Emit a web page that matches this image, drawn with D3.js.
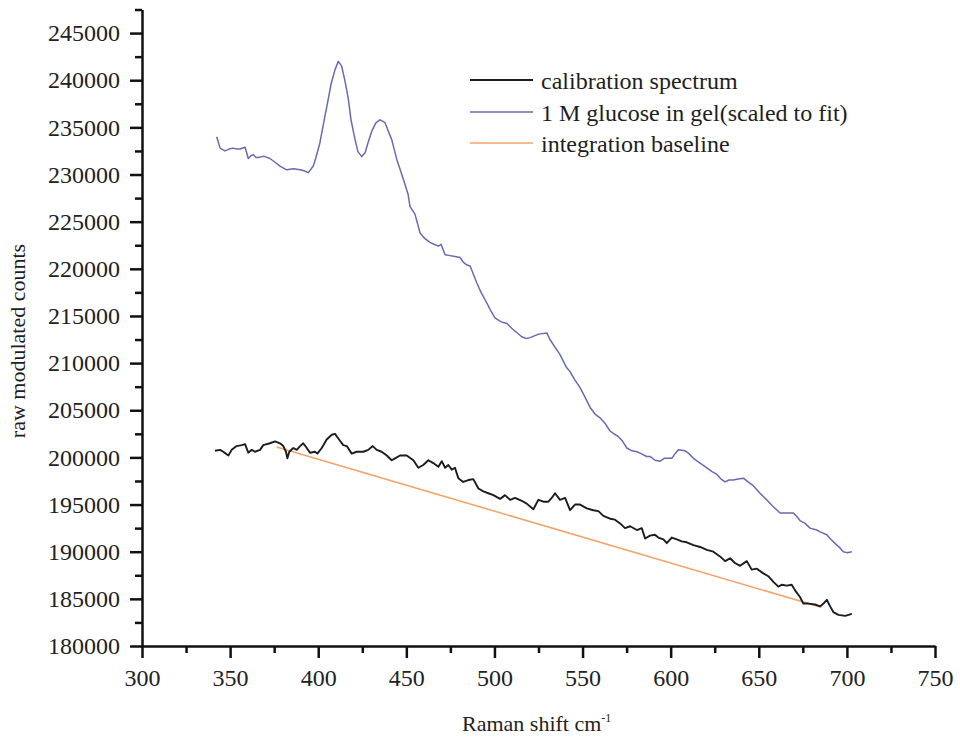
<!DOCTYPE html>
<html><head><meta charset="utf-8">
<script src="https://cdn.jsdelivr.net/npm/d3@7"></script>
<style>
body{margin:0;background:#fff}
svg{display:block}
</style>
</head><body>
<svg id="c" width="960" height="740"></svg>
<script>
// ---- data ----
const glucoseShift = [342.4,344.3,347.1,349.4,351.6,353.9,355.6,358.5,360.3,361.9,
363.2,364.7,366.0,368.1,369.8,372.6,375.5,378.3,382.1,385.9,
389.7,391.9,394.4,397.2,398.7,401.0,403.3,405.7,407.3,409.5,
411.4,413.3,415.2,417.1,418.6,420.9,422.6,424.7,426.6,428.3,
430.4,432.8,435.1,437.9,441.7,444.6,448.3,451.0,452.1,454.9,
457.8,460.6,463.4,465.7,468.2,469.7,472.0,474.8,477.6,480.5,
482.3,484.4,486.2,490.0,492.4,495.6,497.5,500.3,502.6,505.0,
507.1,509.8,512.3,515.5,518.3,520.2,524.0,525.9,529.7,531.5,
535.4,537.2,541.0,542.9,545.7,548.6,551.4,554.3,557.1,559.9,
562.8,565.6,567.9,570.3,572.4,575.1,578.1,580.8,583.2,586.4,
588.3,591.1,594.0,596.3,598.0,600.6,602.5,604.4,608.2,610.4,
612.9,616.7,620.5,623.5,626.2,628.6,630.9,633.1,635.6,638.3,
641.3,643.9,646.9,650.7,654.5,658.1,662.1,665.5,669.6,671.7,
673.4,676.3,679.1,682.9,684.8,688.6,691.0,694.3,696.1,698.0,
700.1,702.8];
const glucoseCounts = [234000,232800,232500,232700,232800,232700,232700,232900,231700,232000,
232100,231800,231800,231900,231900,231700,231300,230900,230500,230600,
230500,230400,230200,230900,231800,233400,235700,238000,239600,241100,
242000,241500,239900,238000,235800,233700,232400,231900,232300,233400,
234600,235500,235800,235500,233700,231600,229500,227900,226600,225800,
223800,223200,222800,222600,222400,222600,221500,221400,221300,221200,
220700,220400,220300,218500,217500,216400,215700,214800,214500,214300,
214200,213700,213300,212800,212600,212700,213000,213100,213200,212500,
211400,210900,209500,209100,208200,207400,206400,205300,204600,204200,
203600,202800,202500,202200,201800,201000,200700,200600,200400,200100,
200100,199700,199600,199900,199900,199900,200400,200800,200700,200400,
199900,199400,198900,198500,198200,197700,197400,197600,197600,197700,
197800,197400,197000,196200,195500,194800,194100,194100,194100,193700,
193300,193000,192500,192300,192100,191800,191300,190700,190400,190000,
189900,190000];

const calibShift = [341.4,344.3,346.1,349.0,350.9,353.7,356.6,358.5,360.3,362.3,
364.1,367.0,368.8,372.6,375.5,378.3,380.2,381.7,382.5,383.6,
385.9,387.8,389.7,391.5,393.5,395.3,398.2,399.5,402.0,404.8,
407.7,409.5,411.4,414.2,416.2,419.0,421.8,425.6,428.4,430.9,
433.2,436.0,438.9,441.7,443.6,446.4,450.2,454.0,456.8,459.6,
462.5,465.3,468.2,470.1,472.0,473.8,475.8,477.6,479.5,482.3,
485.2,488.0,490.9,493.7,496.5,499.4,503.2,506.0,508.9,511.7,
515.5,518.3,522.1,524.9,527.8,530.6,532.5,534.4,537.2,540.1,
542.9,545.7,548.6,552.4,556.1,559.0,561.8,565.6,568.4,571.3,
574.1,577.0,580.8,583.6,585.5,588.3,591.1,593.0,595.9,597.8,
600.6,603.5,606.3,609.1,612.9,616.7,620.5,624.2,628.0,630.9,
633.7,636.5,639.4,643.2,646.0,648.9,652.6,655.4,658.3,661.1,
663.0,665.9,668.7,670.6,673.4,675.3,678.1,681.9,684.8,686.7,
688.6,690.5,692.3,695.2,699.0,702.8];
const calibCounts = [200700,200800,200600,200200,200800,201200,201300,201400,200500,200800,
200600,200800,201300,201500,201700,201500,201200,200600,199900,200600,
201000,200800,201200,201500,201000,200500,200600,200400,201000,201900,
202400,202500,202000,201300,201200,200400,200600,200600,200800,201200,
200800,200600,200200,199700,199900,200200,200200,199700,198900,199200,
199700,199400,199000,199600,198900,199200,198700,198900,197800,197400,
197600,197700,196700,196400,196200,196000,195600,196000,195500,195700,
195400,195100,194500,195500,195300,195300,195700,196200,195500,195700,
194400,195000,195000,194600,194400,194300,193800,193500,193400,193000,
192500,192700,192300,192500,191400,191700,191800,191500,191300,190900,
191500,191300,191100,191000,190700,190500,190200,190000,189500,189000,
189300,188800,188500,189000,188100,188200,187700,187400,186800,186300,
186500,186400,186500,185900,185200,184500,184500,184400,184200,184500,
184900,184200,183600,183300,183200,183400];

const baselineShift = [376.4, 685.5];
const baselineCounts = [201100, 184100];

const xMajor = [300,350,400,450,500,550,600,650,700,750];
const xMinor = [325,375,425,475,525,575,625,675,725];
const yMajor = [180000,185000,190000,195000,200000,205000,210000,215000,220000,225000,230000,235000,240000,245000];
const yMinor = [182500,187500,192500,197500,202500,207500,212500,217500,222500,227500,232500,237500,242500,247500];

const legendLabels = ["calibration spectrum","1 M glucose in gel(scaled to fit)","integration baseline"];
const colors = {calib:"#1c1c1c", glucose:"#6a6ab0", baseline:"#f2a36a"};

// ---- chart ----
const FONT = "Liberation Serif, DejaVu Serif, serif";
const svg = d3.select("#c").attr("font-family", FONT);
const x = d3.scaleLinear().domain([300,750]).range([142,935]);
const y = d3.scaleLinear().domain([180000,247500]).range([646,9.5]);
const AX = "#111";

function styleAxis(g){
  g.attr("font-family", FONT).attr("font-size", 24);
  g.selectAll("path.domain").attr("stroke",AX).attr("stroke-width",2.5);
  g.selectAll(".tick line").attr("stroke",AX).attr("stroke-width",2.5);
  g.selectAll(".tick text").attr("fill","#222");
}

// minor ticks
svg.append("g").attr("transform","translate(0,646)")
  .call(d3.axisBottom(x).tickValues(xMinor).tickSize(7).tickFormat(""))
  .call(styleAxis).call(g=>g.select(".domain").remove());
svg.append("g").attr("transform","translate(142,0)")
  .call(d3.axisLeft(y).tickValues(yMinor).tickSize(7).tickFormat(""))
  .call(styleAxis).call(g=>g.select(".domain").remove());

// major axes
svg.append("g").attr("transform","translate(0,646)")
  .call(d3.axisBottom(x).tickValues(xMajor).tickSize(12).tickSizeOuter(0).tickPadding(11).tickFormat(d3.format("d")))
  .call(styleAxis);
svg.append("g").attr("transform","translate(142,0)")
  .call(d3.axisLeft(y).tickValues(yMajor).tickSize(12).tickSizeOuter(0).tickPadding(10).tickFormat(d3.format("d")))
  .call(styleAxis);

// lines
const line = d3.line().x(d=>x(d[0])).y(d=>y(d[1]));
const toPts = (xs,ys)=>xs.map((v,i)=>[v,ys[i]]);

svg.append("path").datum(toPts(baselineShift,baselineCounts))
  .attr("fill","none").attr("stroke",colors.baseline).attr("stroke-width",1.6).attr("d",line);
svg.append("path").datum(toPts(glucoseShift,glucoseCounts))
  .attr("fill","none").attr("stroke",colors.glucose).attr("stroke-width",1.5)
  .attr("stroke-linejoin","round").attr("d",line);
svg.append("path").datum(toPts(calibShift,calibCounts))
  .attr("fill","none").attr("stroke",colors.calib).attr("stroke-width",1.9)
  .attr("stroke-linejoin","round").attr("d",line);

// legend
const legColors = [colors.calib, colors.glucose, colors.baseline];
const legY = [80,112,143];
legendLabels.forEach((t,i)=>{
  svg.append("line").attr("x1",470).attr("x2",533).attr("y1",legY[i]).attr("y2",legY[i])
    .attr("stroke",legColors[i]).attr("stroke-width", i===0?1.8:1.6);
  svg.append("text").attr("x",541).attr("y",legY[i]+9).attr("font-size",24).attr("fill","#1e1e1e").text(t);
});

// axis titles
svg.append("text").attr("transform","translate(25,341) rotate(-90)")
  .attr("text-anchor","middle").attr("font-size",22).attr("fill","#1e1e1e").text("raw modulated counts");
const xt = svg.append("text").attr("x",462).attr("y",731).attr("font-size",22).attr("fill","#1e1e1e");
xt.append("tspan").text("Raman shift cm");
xt.append("tspan").attr("dy",-9).attr("font-size",12).text("-1");
</script>
</body></html>
